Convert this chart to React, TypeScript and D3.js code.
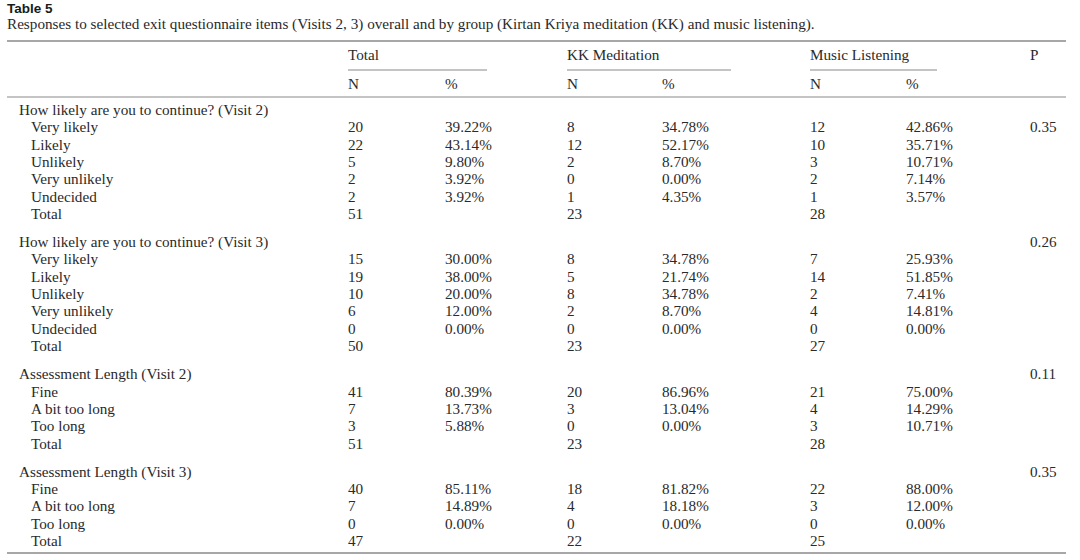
import React from "react";
import * as d3 from "d3";

const tableTitle = "Table 5";
const caption =
  "Responses to selected exit questionnaire items (Visits 2, 3) overall and by group (Kirtan Kriya meditation (KK) and music listening).";

const groupHeaders = ["Total", "KK Meditation", "Music Listening"];
const subHeaders = ["N", "%"];
const pHeader = "P";

const questions = [
  "How likely are you to continue? (Visit 2)",
  "How likely are you to continue? (Visit 3)",
  "Assessment Length (Visit 2)",
  "Assessment Length (Visit 3)",
];
const pValues = ["0.35", "0.26", "0.11", "0.35"];
const pOnFirstItem = [true, false, false, false];

const likelyLabels = ["Very likely", "Likely", "Unlikely", "Very unlikely", "Undecided", "Total"];
const lengthLabels = ["Fine", "A bit too long", "Too long", "Total"];

// Q1: continue (Visit 2)
const q1TotalN = ["20", "22", "5", "2", "2", "51"];
const q1TotalPct = ["39.22%", "43.14%", "9.80%", "3.92%", "3.92%", ""];
const q1KkN = ["8", "12", "2", "0", "1", "23"];
const q1KkPct = ["34.78%", "52.17%", "8.70%", "0.00%", "4.35%", ""];
const q1MlN = ["12", "10", "3", "2", "1", "28"];
const q1MlPct = ["42.86%", "35.71%", "10.71%", "7.14%", "3.57%", ""];

// Q2: continue (Visit 3)
const q2TotalN = ["15", "19", "10", "6", "0", "50"];
const q2TotalPct = ["30.00%", "38.00%", "20.00%", "12.00%", "0.00%", ""];
const q2KkN = ["8", "5", "8", "2", "0", "23"];
const q2KkPct = ["34.78%", "21.74%", "34.78%", "8.70%", "0.00%", ""];
const q2MlN = ["7", "14", "2", "4", "0", "27"];
const q2MlPct = ["25.93%", "51.85%", "7.41%", "14.81%", "0.00%", ""];

// Q3: assessment length (Visit 2)
const q3TotalN = ["41", "7", "3", "51"];
const q3TotalPct = ["80.39%", "13.73%", "5.88%", ""];
const q3KkN = ["20", "3", "0", "23"];
const q3KkPct = ["86.96%", "13.04%", "0.00%", ""];
const q3MlN = ["21", "4", "3", "28"];
const q3MlPct = ["75.00%", "14.29%", "10.71%", ""];

// Q4: assessment length (Visit 3)
const q4TotalN = ["40", "7", "0", "47"];
const q4TotalPct = ["85.11%", "14.89%", "0.00%", ""];
const q4KkN = ["18", "4", "0", "22"];
const q4KkPct = ["81.82%", "18.18%", "0.00%", ""];
const q4MlN = ["22", "3", "0", "25"];
const q4MlPct = ["88.00%", "12.00%", "0.00%", ""];

const sections = [
  { labels: likelyLabels, cols: [q1TotalN, q1TotalPct, q1KkN, q1KkPct, q1MlN, q1MlPct] },
  { labels: likelyLabels, cols: [q2TotalN, q2TotalPct, q2KkN, q2KkPct, q2MlN, q2MlPct] },
  { labels: lengthLabels, cols: [q3TotalN, q3TotalPct, q3KkN, q3KkPct, q3MlN, q3MlPct] },
  { labels: lengthLabels, cols: [q4TotalN, q4TotalPct, q4KkN, q4KkPct, q4MlN, q4MlPct] },
];

const W = 1080;
const H = 560;
const TEXT = "#2a2a2a";
const RULE = "#8a8a8a";
const SERIF = "'Liberation Serif', 'Times New Roman', serif";
const FS = 15.2;

// column x positions (left edges)
const colX = [348, 445, 567, 662, 810, 906];
const groupRuleSpans: [number, number][] = [
  [348, 487],
  [567, 731],
  [810, 937],
];
const pX = 1030;
const labelX = 19;
const itemX = 31;

const GAP = 0.614;

type Row = { u: number; kind: "header" | "item"; text: string; cells: string[]; p: string };

function buildRows(): Row[] {
  const rows: Row[] = [];
  let u = 0;
  sections.forEach((s, gi) => {
    if (gi > 0) u += GAP;
    rows.push({ u, kind: "header", text: questions[gi], cells: [], p: pOnFirstItem[gi] ? "" : pValues[gi] });
    u += 1;
    s.labels.forEach((lab, i) => {
      rows.push({
        u,
        kind: "item",
        text: lab,
        cells: s.cols.map((c) => c[i]),
        p: pOnFirstItem[gi] && i === 0 ? pValues[gi] : "",
      });
      u += 1;
    });
  });
  return rows;
}

export default function App() {
  const rows = buildRows();
  const maxU = d3.max(rows, (r) => r.u) as number;
  const y = d3.scaleLinear().domain([0, maxU]).range([110, 541]);
  const base = 5;

  return (
    <svg
      width={W}
      height={H}
      viewBox={`0 0 ${W} ${H}`}
      style={{ position: "absolute", left: 0, top: 0, display: "block", background: "#fff" }}
    >
      <rect x={0} y={0} width={W} height={H} fill="#fff" />
      <text x={7} y={13} fontFamily="'Liberation Sans', Arial, sans-serif" fontWeight="bold" fontSize={13.5} fill="#1a1a1a">
        {tableTitle}
      </text>
      <text x={7} y={29} fontFamily={SERIF} fontSize={FS} fill={TEXT}>
        {caption}
      </text>

      <line x1={7} x2={1066} y1={41} y2={41} stroke={RULE} strokeWidth={1.6} />

      {groupHeaders.map((g, i) => (
        <text key={g} x={colX[i * 2]} y={59.5} fontFamily={SERIF} fontSize={FS} fill={TEXT}>
          {g}
        </text>
      ))}
      <text x={pX} y={59.5} fontFamily={SERIF} fontSize={FS} fill={TEXT}>
        {pHeader}
      </text>
      {groupRuleSpans.map(([a, b], i) => (
        <line key={i} x1={a} x2={b} y1={70} y2={70} stroke={RULE} strokeWidth={1.2} />
      ))}
      {colX.map((x, i) => (
        <text key={i} x={x} y={88.5} fontFamily={SERIF} fontSize={FS} fill={TEXT}>
          {subHeaders[i % 2]}
        </text>
      ))}
      <line x1={7} x2={1066} y1={97} y2={97} stroke={RULE} strokeWidth={1.2} />

      {rows.map((r, ri) => {
        const yy = y(r.u) + base;
        return (
          <g key={ri}>
            <text x={r.kind === "header" ? labelX : itemX} y={yy} fontFamily={SERIF} fontSize={FS} fill={TEXT}>
              {r.text}
            </text>
            {r.cells.map((c, ci) =>
              c ? (
                <text key={ci} x={colX[ci]} y={yy} fontFamily={SERIF} fontSize={FS} fill={TEXT}>
                  {c}
                </text>
              ) : null
            )}
            {r.p ? (
              <text x={pX} y={yy} fontFamily={SERIF} fontSize={FS} fill={TEXT}>
                {r.p}
              </text>
            ) : null}
          </g>
        );
      })}

      <line x1={7} x2={1066} y1={553} y2={553} stroke={RULE} strokeWidth={1.6} />
    </svg>
  );
}
